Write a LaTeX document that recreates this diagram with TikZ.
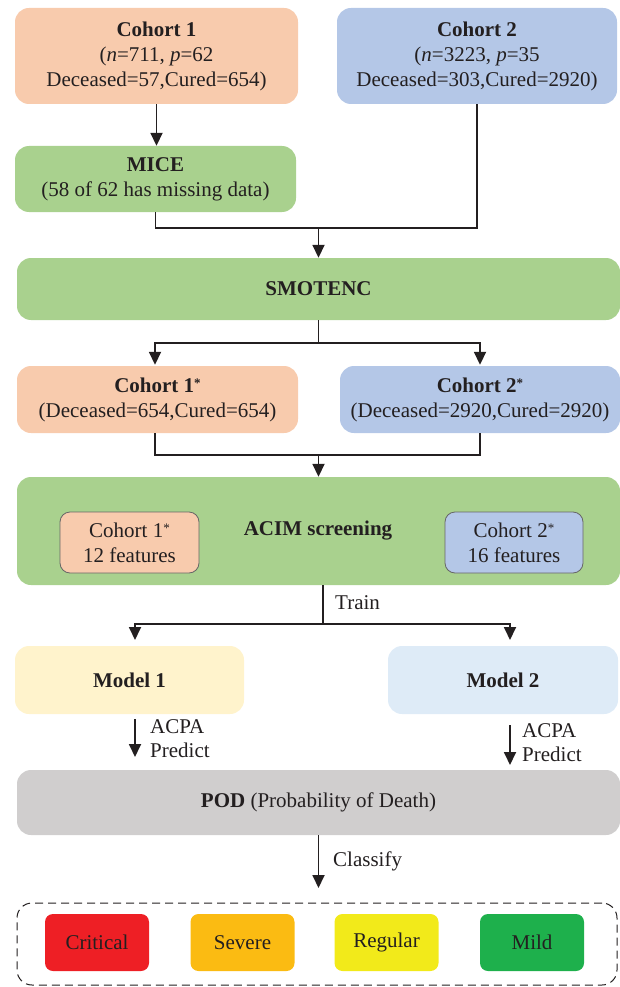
\documentclass[tikz,border=0pt]{standalone}
\usepackage{fontspec}
\setmainfont{Liberation Serif}
\usetikzlibrary{arrows.meta,calc}
\definecolor{peach}{HTML}{F8CBAD}
\definecolor{bluebox}{HTML}{B4C7E7}
\definecolor{greenbox}{HTML}{A9D18E}
\definecolor{yelbox}{HTML}{FFF3CC}
\definecolor{lbluebox}{HTML}{DEEBF7}
\definecolor{graybox}{HTML}{D0CECE}
\definecolor{crit}{HTML}{EE1F25}
\definecolor{sev}{HTML}{FBBB12}
\definecolor{reg}{HTML}{F2EA1A}
\definecolor{mild}{HTML}{1EB04C}
\definecolor{ink}{HTML}{231F20}
\newcommand{\smallstar}{\raisebox{5pt}{\fontsize{13}{13}\selectfont *}}
\tikzset{
  box/.style={rounded corners=14pt, align=center, inner sep=0pt, text=ink,
    font=\fontsize{21}{25}\selectfont},
  inbox/.style={box, draw=gray!80!black, line width=0.8pt, rounded corners=10pt},
  lvl/.style={box, rounded corners=8pt, minimum width=104pt, minimum height=57pt},
  conn/.style={line width=1.8pt, draw=ink},
  arr/.style={conn, -{Triangle[width=12pt,length=13pt]}},
  lbl/.style={anchor=west, inner sep=0pt, text=ink, font=\fontsize{21}{24}\selectfont}
}
\begin{document}
\begin{tikzpicture}[x=1pt,y=-1pt]
\useasboundingbox (0,0) rectangle (620,987);
% top cohorts
\node[box, fill=peach, minimum width=283pt, minimum height=96pt] (c1) at (156.5,56)
  {\textbf{Cohort 1}\\(\textit{n}=711, \textit{p}=62\\Deceased=57,Cured=654)};
\node[box, fill=bluebox, minimum width=280pt, minimum height=96pt] (c2) at (477,56)
  {\textbf{Cohort 2}\\(\textit{n}=3223, \textit{p}=35\\Deceased=303,Cured=2920)};
\node[box, fill=greenbox, minimum width=281pt, minimum height=66pt] (mice) at (155.5,179)
  {\textbf{MICE}\\(58 of 62 has missing data)};
\node[box, fill=greenbox, minimum width=603pt, minimum height=62pt] (smote) at (318.5,289)
  {\textbf{SMOTENC}};
\node[box, fill=peach, minimum width=281pt, minimum height=67pt] (c1s) at (157.5,399.5)
  {\textbf{Cohort 1\smallstar}\\(Deceased=654,Cured=654)};
\node[box, fill=bluebox, minimum width=280pt, minimum height=67pt] (c2s) at (480,399.5)
  {\textbf{Cohort 2\smallstar}\\(Deceased=2920,Cured=2920)};
\node[box, fill=greenbox, minimum width=603pt, minimum height=108pt] (acim) at (318.5,531) {};
\node[box] (acimt) at (318,531) {\textbf{ACIM screening}};
\node[inbox, fill=peach, minimum width=139pt, minimum height=61pt] (in1) at (129.5,542.5)
  {Cohort 1\smallstar\\12 features};
\node[inbox, fill=bluebox, minimum width=138pt, minimum height=61pt] (in2) at (514,542.5)
  {Cohort 2\smallstar\\16 features};
\node[box, fill=yelbox, minimum width=229pt, minimum height=68pt] (m1) at (129.5,680)
  {\textbf{Model 1}};
\node[box, fill=lbluebox, minimum width=230pt, minimum height=68pt] (m2) at (503,680)
  {\textbf{Model 2}};
\node[box, fill=graybox, minimum width=603pt, minimum height=65pt] (pod) at (318.5,802.5)
  {\textbf{POD} (Probability of Death)};
% classification group
\node[draw=ink, dash pattern=on 8pt off 5pt, line width=1pt, rounded corners=15pt,
  minimum width=600pt, minimum height=82pt, inner sep=0pt] (grp) at (317,944) {};
\node[lvl, fill=crit] (crit) at (97,942.5) {Critical};
\node[lvl, fill=sev] (sev) at (242.5,942.5) {Severe};
\node[lvl, fill=reg] (reg) at (386.5,942.5) {Regular};
\node[lvl, fill=mild] (mild) at (532,942.5) {Mild};
% coordinates
\coordinate (j1) at (318.5,228);
\coordinate (s1) at (318.5,343);
\coordinate (j2) at (318.5,455);
\coordinate (t0) at (323,585);
\coordinate (t1) at (323,624);
\coordinate (m1a) at (135,640);
\coordinate (m2a) at (510,640);
\coordinate (p1s) at (135,719);
\coordinate (p1e) at (135,757);
\coordinate (p2s) at (510,725);
\coordinate (p2e) at (510,765);
\coordinate (cl) at (318.5,888);
% connectors
\draw[arr] (c1.south) -- (c1.south |- mice.north);
\draw[conn] (mice.south) |- (j1);
\draw[conn] (c2.south) |- (j1);
\draw[arr] (j1) -- (smote.north);
\draw[conn] (smote.south) -- (s1);
\draw[arr] (s1) -| ([yshift=1pt]c1s.north -| 155,0);
\draw[arr] (s1) -| ([yshift=1pt]c2s.north);
\draw[conn] (c1s.south -| 155,0) |- (j2);
\draw[conn] (c2s.south) |- (j2);
\draw[arr] (j2) -- (acim.north);
\draw[conn] (t0) -- (t1);
\draw[arr] (t1) -| (m1a);
\draw[arr] (t1) -| (m2a);
\draw[arr] (p1s) -- (p1e);
\draw[arr] (p2s) -- (p2e);
\draw[arr] (pod.south) -- (cl);
% labels
\node[lbl] (ltrain) at (335,603) {Train};
\node[lbl] (la1) at (150,727) {ACPA};
\node[lbl] (lp1) at (150,750) {Predict};
\node[lbl] (la2) at (522,731) {ACPA};
\node[lbl] (lp2) at (522,754) {Predict};
\node[lbl] (lcl) at (333,861) {Classify};
\end{tikzpicture}
\end{document}
